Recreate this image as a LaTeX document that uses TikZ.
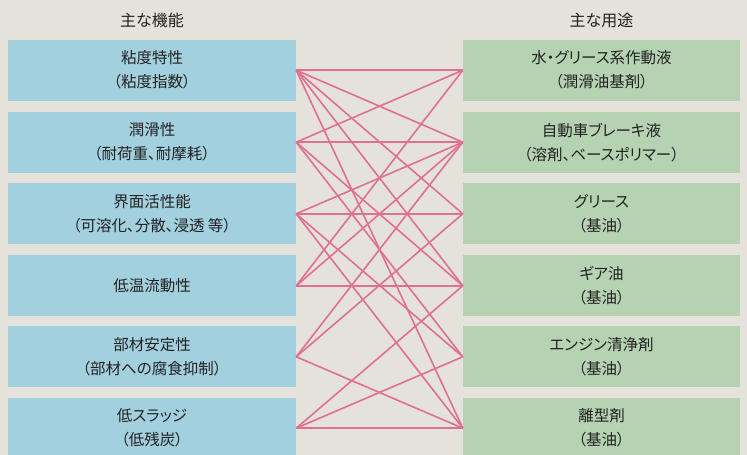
\documentclass[tikz,border=0pt]{standalone}
\usepackage{fontspec}
\setmainfont{Noto Sans CJK JP}[RawFeature=+palt]
\definecolor{bgc}{HTML}{E5E1DB}
\definecolor{bluec}{HTML}{A3D0DE}
\definecolor{greenc}{HTML}{B5D2B2}
\definecolor{linkc}{HTML}{E0708F}
\definecolor{txtc}{HTML}{222222}
\tikzset{
  boxbase/.style={minimum width=288bp, minimum height=61bp, inner sep=0pt, align=center, text=txtc,
    font=\fontsize{15.5bp}{24bp}\selectfont},
  funcbox/.style={boxbase, fill=bluec},
  usebox/.style={boxbase, fill=greenc, minimum width=277bp},
  header/.style={text=txtc, font=\fontsize{16bp}{18bp}\selectfont, inner sep=0pt},
  link/.style={draw=linkc, line width=1.6bp}
}
\begin{document}
\begin{tikzpicture}[x=1bp,y=-1bp]
\useasboundingbox (0,0) rectangle (747,455);
\fill[bgc] (0,0) rectangle (747,455);
\clip (0,0) rectangle (747,455);
\node[header] (hl) at (152,20) {主な機能};
\node[header] (hr) at (601.5,20) {主な用途};
\node[funcbox] (L1) at (152,70.2) {粘度特性\\（粘度指数）};
\node[funcbox] (L2) at (152,142.2) {潤滑性\\（耐荷重、耐摩耗）};
\node[funcbox] (L3) at (152,213.8) {界面活性能\\（可溶化、分散、浸透\ 等）};
\node[funcbox] (L4) at (152,285.8) {低温流動性};
\node[funcbox] (L5) at (152,356.8) {部材安定性\\（部材への腐食抑制）};
\node[funcbox] (L6) at (152,428.2) {低スラッジ\\（低残炭）};
\node[usebox] (R1) at (601.5,70.2) {水・グリース系作動液\\（潤滑油基剤）};
\node[usebox] (R2) at (601.5,142.2) {自動車ブレーキ液\\（溶剤、ベースポリマー）};
\node[usebox] (R3) at (601.5,213.8) {グリース\\（基油）};
\node[usebox] (R4) at (601.5,285.8) {ギア油\\（基油）};
\node[usebox] (R5) at (601.5,356.8) {エンジン清浄剤\\（基油）};
\node[usebox] (R6) at (601.5,428.2) {離型剤\\（基油）};
\foreach \a/\b in {1/1,1/2,1/3,1/4,1/6,2/1,2/2,2/4,2/5,3/2,3/3,3/5,3/6,4/1,4/2,4/4,5/2,5/3,5/6,6/4,6/5,6/6}
  \draw[link] (L\a.east) -- (R\b.west);
\end{tikzpicture}
\end{document}
